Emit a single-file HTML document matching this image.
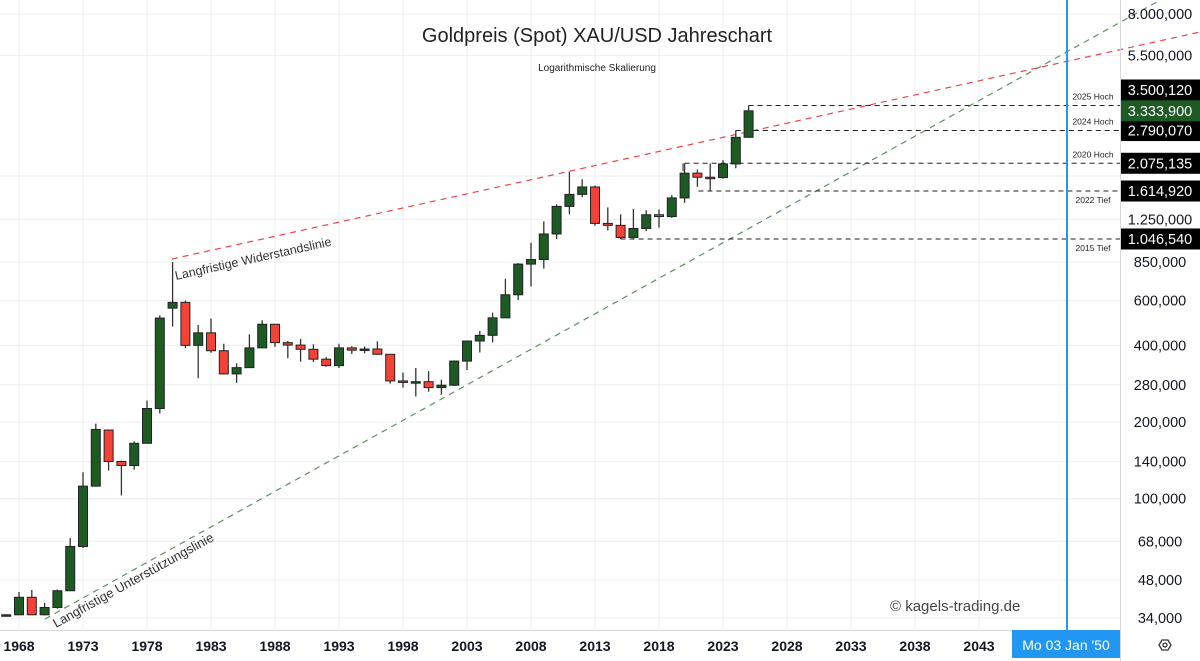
<!DOCTYPE html>
<html><head><meta charset="utf-8">
<style>
html,body{margin:0;padding:0;background:#fff;}
svg{display:block;font-family:"Liberation Sans","DejaVu Sans",sans-serif;}
</style></head>
<body>
<svg id="c" width="1200" height="661" viewBox="0 0 1200 661" xmlns="http://www.w3.org/2000/svg">
<rect x="0" y="0" width="1200" height="661" fill="#fff"/>
<g id="grid"></g>
<g id="lines"></g>
<g id="candles"></g>
<g id="overlay"></g>
<g id="axes"></g>
</svg>
<script>
const years=[1967,1968,1969,1970,1971,1972,1973,1974,1975,1976,1977,1978,1979,1980,1981,1982,1983,1984,1985,1986,1987,1988,1989,1990,1991,1992,1993,1994,1995,1996,1997,1998,1999,2000,2001,2002,2003,2004,2005,2006,2007,2008,2009,2010,2011,2012,2013,2014,2015,2016,2017,2018,2019,2020,2021,2022,2023,2024,2025];
const opens=[35,35,41,35,37.4,43.5,64.9,112,186,140,135,165,226,560,590,400,448,381,309,327,391,484,410,401,386,353,333,391,383,387,369,290,288,288,273,279,347,416,438,513,632,834,869,1095,1405,1566,1675,1205,1184,1061,1151,1303,1282,1517,1898,1829,1824,2063,2624];
const highs=[35.2,43,43.8,39,44,70,127,197,186,141,168,243,525,850,600,481,510,406,340,442,502,485,416,424,404,360,406,397,396,415,367,313,326,317,293,349,417,456,538,730,842,1011,1227,1431,1921,1796,1696,1392,1308,1375,1358,1366,1557,2075,1960,2070,2135,2790,3500];
const lows=[34.8,35,35,34.8,37,43.5,64,116,129,103,130,165,216,474,390,297,374,307,285,326,390,395,356,345,344,330,326,370,372,367,283,273,252,263,256,277,320,375,411,513,603,681,801,1045,1308,1527,1180,1131,1046,1046,1124,1160,1266,1451,1677,1615,1804,1984,2615];
const closes=[35,41,35,37.4,43.5,64.9,112,187,140,135,165,226,512,590,400,448,381,309,327,391,484,410,401,386,353,333,391,383,387,369,290,288,288,273,279,347,416,438,513,632,834,869,1095,1405,1566,1675,1205,1184,1061,1151,1303,1282,1517,1898,1829,1824,2063,2624,3334];
const yTickVals=[8000,5500,1850,1250,850,600,400,280,200,140,100,68,48,34];
const yTickLabels=["8.000,000","5.500,000","1.850,000","1.250,000","850,000","600,000","400,000","280,000","200,000","140,000","100,000","68,000","48,000","34,000"];
const xTickYears=[1968,1973,1978,1983,1988,1993,1998,2003,2008,2013,2018,2023,2028,2033,2038,2043];
const levelVals=[3500.12,2790.07,2075.135,1614.92,1046.54];
const levelNames=["2025 Hoch","2024 Hoch","2020 Hoch","2022 Tief","2015 Tief"];
const levelLabels=["3.500,120","2.790,070","2.075,135","1.614,920","1.046,540"];
const levelStartYears=[2025,2024,2020,2021,2015];

const NS="http://www.w3.org/2000/svg";
function X(yr){return 19+(yr-1968)*12.8;}
function Y(v){return 618-110.6*Math.log(v/34);}
function mk(tag,attrs,parent){const e=document.createElementNS(NS,tag);for(const k in attrs)e.setAttribute(k,attrs[k]);parent.appendChild(e);return e;}
const grid=document.getElementById('grid'),lines=document.getElementById('lines'),cg=document.getElementById('candles'),ov=document.getElementById('overlay'),ax=document.getElementById('axes');

yTickVals.forEach((v,i)=>{
  const g=mk('line',{x1:0,x2:1120,y1:Y(v),y2:Y(v),stroke:'#eef0f3','stroke-width':1.3},grid);
  
  
  if(v===1850)return;
  const t=mk('text',{x:1160,y:Y(v)+5,'text-anchor':'middle','font-size':14.5,fill:'#131722'},ax);
  t.textContent=yTickLabels[i];
  
  
});
xTickYears.forEach(yr=>{
  const g=mk('line',{x1:X(yr),x2:X(yr),y1:0,y2:630,stroke:'#eef0f3','stroke-width':1.3},grid);
  
  
  const t=mk('text',{x:X(yr),y:651,'text-anchor':'middle','font-size':14,'font-weight':'bold',fill:'#131722'},ax);
  t.textContent=String(yr);
  
  
});

let l=mk('line',{x1:172,y1:259,x2:1200,y2:32,stroke:'#e8474a','stroke-width':1.2,'stroke-dasharray':'6 5'},lines);

l=mk('line',{x1:45,y1:619,x2:1200,y2:-22,stroke:'#5e8f63','stroke-width':1.2,'stroke-dasharray':'6 5'},lines);


levelVals.forEach((v,i)=>{
  const x0=X(levelStartYears[i])-(i===3?-1:0);
  const ln=mk('line',{x1:x0,x2:1120,y1:Y(v),y2:Y(v),stroke:'#222','stroke-width':1,'stroke-dasharray':'5 4'},lines);
  
  
  const below=levelNames[i].indexOf('Tief')>=0;
  const t=mk('text',{x:1093,y:below?Y(v)+12:Y(v)-6,'text-anchor':'middle','font-size':8.5,fill:'#222'},ov);
  t.textContent=levelNames[i];
  
  
});
mk('line',{x1:683,x2:683,y1:Y(2075.135),y2:Y(2075.135)+8,stroke:'#222','stroke-width':1},lines);

years.forEach((yr,i)=>{
  const o=opens[i],c=closes[i],h=highs[i],lw=lows[i],x=X(yr);
  const up=c>=o;
  const w=mk('line',{x1:x,x2:x,y1:Y(h),y2:Y(lw),stroke:'#333','stroke-width':1.3},cg);
  
  
  const top=Y(Math.max(o,c)),bot=Y(Math.min(o,c));
  const r=mk('rect',{x:x-4.5,y:top,width:9,height:Math.max(bot-top,1.5),fill:up?'#1d5a24':'#f44336',stroke:'#222','stroke-width':1},cg);
  
  
});

levelLabels.forEach((lab,i)=>{
  const by=(i===0)?90:Y(levelVals[i]);
  const r=mk('rect',{x:1120,y:by-10.5,width:80,height:21,fill:'#000'},ax);
  
  
  const t=mk('text',{x:1160,y:by+5,'text-anchor':'middle','font-size':14.5,fill:'#fff'},ax);
  t.textContent=lab;
  
  
});
const cb=mk('rect',{x:1120,y:Y(3333.9)-10.5,width:80,height:21,fill:'#1d5a24'},ax);


const ct=mk('text',{x:1160,y:Y(3333.9)+5,'text-anchor':'middle','font-size':14.5,fill:'#fff'},ax);
ct.textContent='3.333,900';


</script>
<svg style="position:absolute;left:0;top:0" width="1200" height="661">
<line x1="1067" y1="0" x2="1067" y2="630" stroke="#2196f3" stroke-width="2"/>
<line x1="0" y1="630.5" x2="1120" y2="630.5" stroke="#d6d8de" stroke-width="1"/>
<line x1="1120.5" y1="0" x2="1120.5" y2="661" stroke="#d6d8de" stroke-width="1"/>
<text x="597" y="42" text-anchor="middle" font-size="20" fill="#222" font-family="Liberation Sans, sans-serif">Goldpreis (Spot) XAU/USD Jahreschart</text>
<text x="597" y="71" text-anchor="middle" font-size="10" fill="#222" font-family="Liberation Sans, sans-serif">Logarithmische Skalierung</text>
<text x="0" y="0" transform="translate(176,280) rotate(-12.5)" font-size="12.5" fill="#333" font-family="Liberation Sans, sans-serif">Langfristige Widerstandslinie</text>
<text x="0" y="0" transform="translate(56,628) rotate(-29)" font-size="13" fill="#333" font-family="Liberation Sans, sans-serif">Langfristige Unterstützungslinie</text>
<text x="890" y="611" font-size="15" fill="#444" font-family="Liberation Sans, sans-serif">© kagels-trading.de</text>
<rect x="1012" y="630" width="108" height="28" fill="#2196f3"/>
<text x="1066" y="650" text-anchor="middle" font-size="14" fill="#fff" font-family="Liberation Sans, sans-serif">Mo 03 Jan '50</text>
<g>
<polygon points="1159,645 1162,640 1168,640 1171,645 1168,650 1162,650" fill="none" stroke="#333" stroke-width="1.3"/>
<circle cx="1165" cy="645" r="2" fill="none" stroke="#333" stroke-width="1.3"/>
</g>
</svg>
</body></html>
